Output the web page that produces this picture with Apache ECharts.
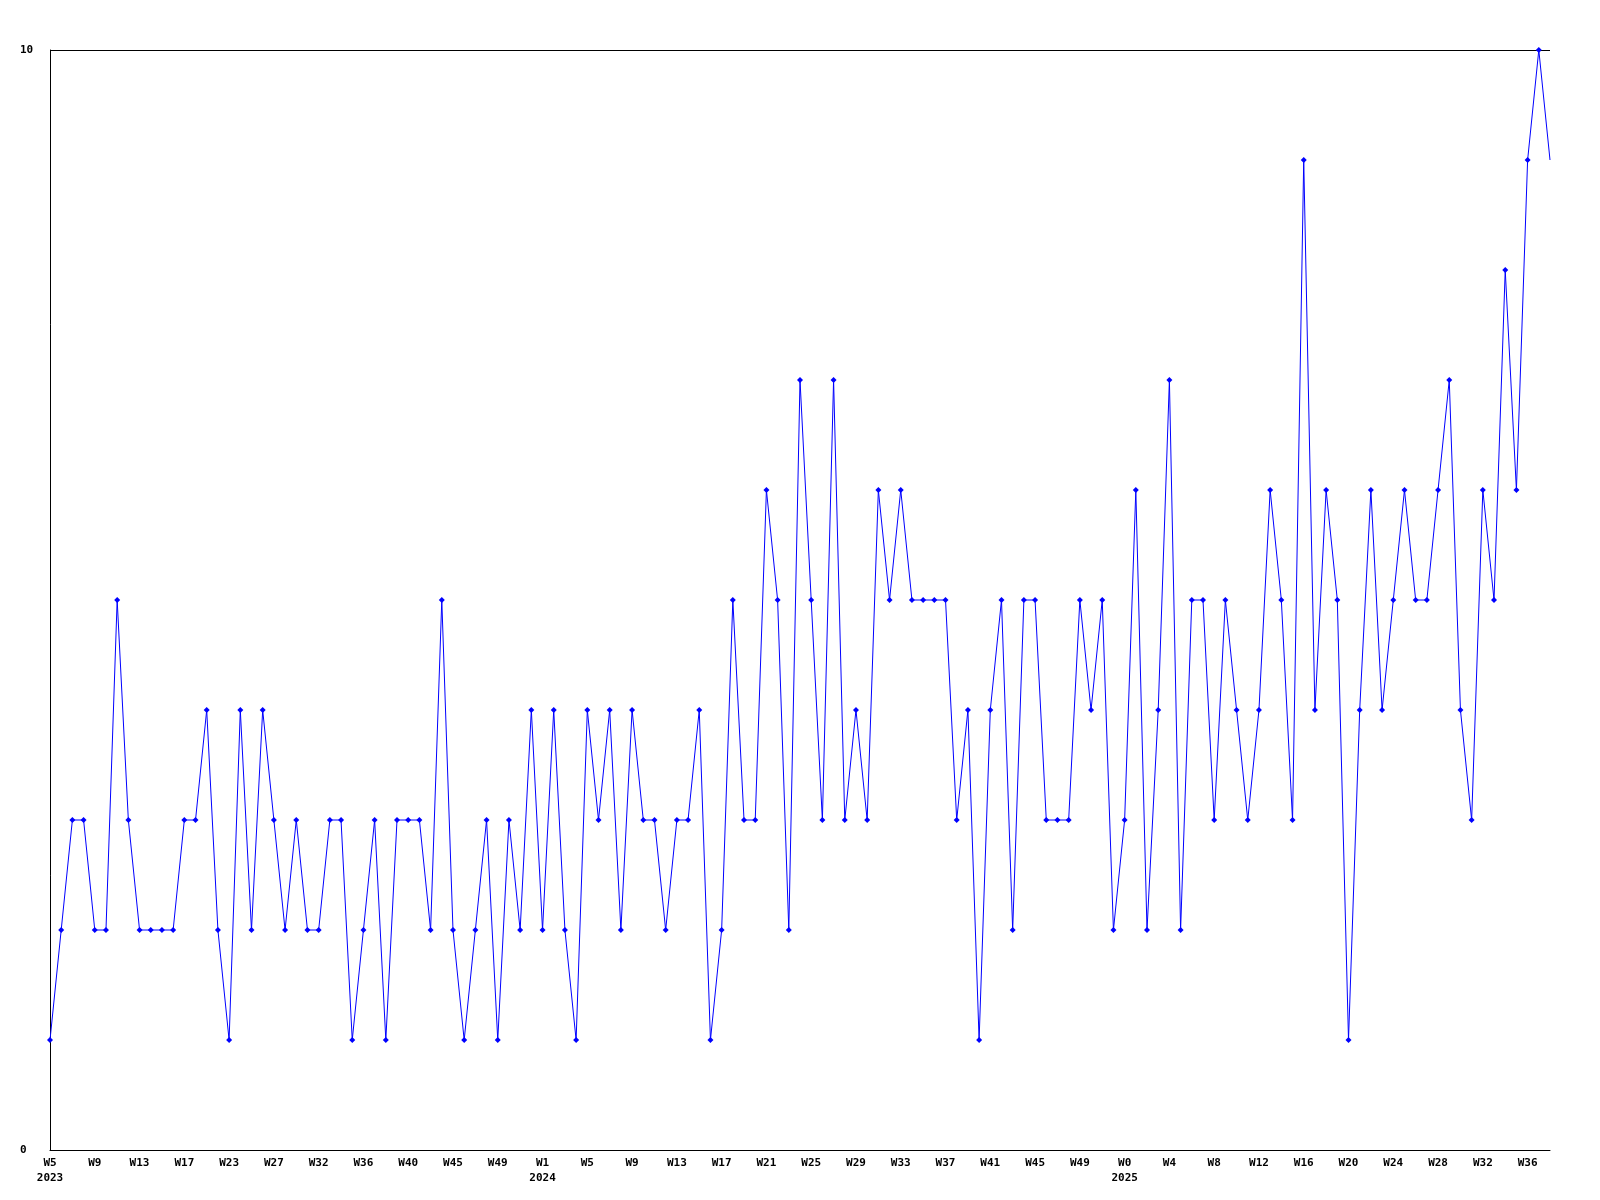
<!DOCTYPE html>
<html>
<head>
<meta charset="utf-8">
<script src="https://cdn.jsdelivr.net/npm/echarts@6/dist/echarts.min.js"></script>
<style>
  html, body { margin: 0; padding: 0; background: #ffffff; }
  #chart { width: 1600px; height: 1200px; }
</style>
</head>
<body>
<div id="chart"></div>
<script>
// Week numbers present in the data, per year
const weeks2023 = [5,6,7,8,9,10,11,12,13,14,15,16,17,18,19,21,23,24,25,26,27,28,29,31,32,33,34,35,36,37,38,39,40,41,42,44,45,46,47,48,49,50,51,52];
const weeks2024 = [1,2,3,4,5,6,7,8,9,10,11,12,13,14,15,16,17,18,19,20,21,22,23,24,25,26,27,28,29,30,31,32,33,34,35,36,37,38,39,40,41,42,43,44,45,46,47,48,49,50,51,52];
const weeks2025 = [0,1,2,3,4,5,6,7,8,9,10,11,12,13,14,15,16,17,18,19,20,21,22,23,24,25,26,27,28,29,30,31,32,33,34,35,36,37,38];
const years = [2023, 2024, 2025];

// Weekly values
const values = [
  1,2,3,3,2,2,5,3,2,2, 2,2,3,3,4,2,1,4,2,4,
  3,2,3,2,2,3,3,1,2,3, 1,3,3,3,2,5,2,1,2,3,
  1,3,2,4,2,4,2,1,4,3, 4,2,4,3,3,2,3,3,4,1,
  2,5,3,3,6,5,2,7,5,3, 7,3,4,3,6,5,6,5,5,5,
  5,3,4,1,4,5,2,5,5,3, 3,3,5,4,5,2,3,6,2,4,
  7,2,5,5,3,5,4,3,4,6, 5,3,9,4,6,5,1,4,6,4,
  5,6,5,5,6,7,4,3,6,5, 8,6,9,10,9
];

const yTicks = [0, 10];

// Build category labels (first week of each year carries the year)
const categories = [];
[weeks2023, weeks2024, weeks2025].forEach((wk, yi) => {
  wk.forEach((w, i) => {
    categories.push(i === 0 ? ('W' + w + '\n' + years[yi]) : ('W' + w));
  });
});

const seriesData = values.map((v, i) =>
  i === values.length - 1 ? { value: v, symbol: 'none' } : v
);

const chart = echarts.init(document.getElementById('chart'), null, { renderer: 'canvas' });
const font = { fontFamily: 'DejaVu Sans Mono', fontWeight: 'bold', fontSize: 11, color: '#000000' };

chart.setOption({
  animation: false,
  backgroundColor: '#ffffff',
  grid: { left: 50, right: 50, top: 50, bottom: 50, containLabel: false },
  xAxis: {
    type: 'category',
    data: categories,
    boundaryGap: false,
    axisLine: { show: true, lineStyle: { color: '#000000', width: 1 } },
    axisTick: { show: false },
    splitLine: { show: false },
    axisLabel: Object.assign({}, font, {
      interval: 3,
      margin: 6,
      lineHeight: 15,
      align: 'center'
    })
  },
  yAxis: {
    type: 'value',
    min: yTicks[0],
    max: yTicks[yTicks.length - 1],
    interval: 10,
    axisLine: { show: true, lineStyle: { color: '#000000', width: 1 } },
    axisTick: { show: false },
    splitLine: { show: true, lineStyle: { color: '#000000', width: 1 } },
    axisLabel: Object.assign({}, font, {
      align: 'left',
      margin: 30
    })
  },
  series: [{
    type: 'line',
    data: seriesData,
    showSymbol: true,
    showAllSymbol: true,
    symbol: 'diamond',
    symbolSize: 6,
    lineStyle: { color: '#0000ff', width: 1 },
    itemStyle: { color: '#0000ff' },
    emphasis: { disabled: true }
  }]
});
</script>
</body>
</html>
